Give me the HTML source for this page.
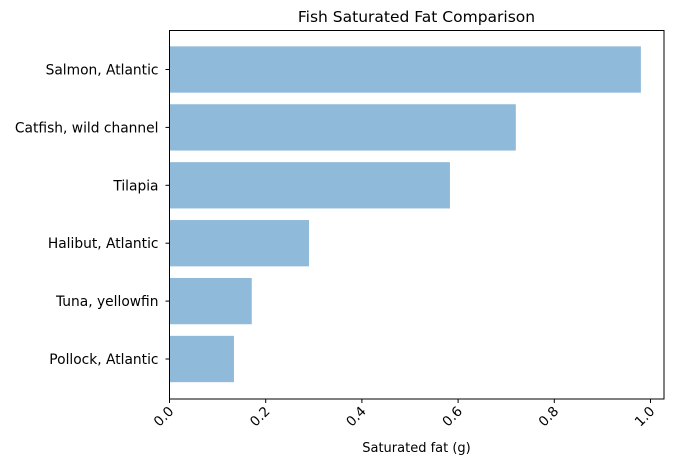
<!DOCTYPE html>
<html><head><meta charset="utf-8"><style>
body{margin:0;background:#fff;}
svg{font-family:"DejaVu Sans","Liberation Sans",sans-serif;}
</style></head><body>
<svg id="chart" width="678" height="464">
<rect width="678" height="464" fill="#fff"/>
<text x="416.5" y="22" font-size="15.5" text-anchor="middle">Fish Saturated Fat Comparison</text>
<g id="bars"></g><g id="yticks"></g><g id="xticks"></g>
<rect x="169.5" y="30.5" width="494.5" height="368.5" fill="none" stroke="#000" stroke-width="1"/>
<text x="416.5" y="452" font-size="13" text-anchor="middle">Saturated fat (g)</text>
</svg>
<script>
const categories=["Salmon, Atlantic","Catfish, wild channel","Tilapia","Halibut, Atlantic","Tuna, yellowfin","Pollock, Atlantic"];
const values=[0.98,0.72,0.583,0.29,0.171,0.134];
const xTicks=[0,0.2,0.4,0.6,0.8,1.0];
const xTickLabels=["0.0","0.2","0.4","0.6","0.8","1.0"];
const NS="http://www.w3.org/2000/svg";
const x0=169.5,xs=481,yTop=69.5,pitch=57.9,bh=46.3,axBottom=399;
const xPos=v=>x0+v*xs, yPos=i=>yTop+i*pitch;
function mk(t,a,p){const e=document.createElementNS(NS,t);for(const k in a)e.setAttribute(k,a[k]);p.appendChild(e);return e;}
const gb=document.getElementById('bars'),gy=document.getElementById('yticks'),gx=document.getElementById('xticks');
categories.forEach((c,i)=>{
 const r=mk('rect',{x:xPos(0),y:yPos(i)-bh/2,width:xPos(values[i])-xPos(0),height:bh,fill:'#8fbad9'},gb);
 
 
 mk('line',{x1:x0-4,x2:x0,y1:yPos(i),y2:yPos(i),stroke:'#000'},gy);
 const t=mk('text',{x:x0-11,y:yPos(i)+5,'font-size':13.8,'text-anchor':'end'},gy);
 t.textContent=c;
 
 
});
xTicks.forEach((v,i)=>{
 const x=xPos(v);
 mk('line',{x1:x,x2:x,y1:axBottom,y2:axBottom+4,stroke:'#000'},gx);
 const t=mk('text',{x:x+5,y:axBottom+13,'font-size':13.5,'text-anchor':'end',transform:`rotate(-45 ${x+5} ${axBottom+13})`},gx);
 t.textContent=xTickLabels[i];
 
 
});
</script>
</body></html>
